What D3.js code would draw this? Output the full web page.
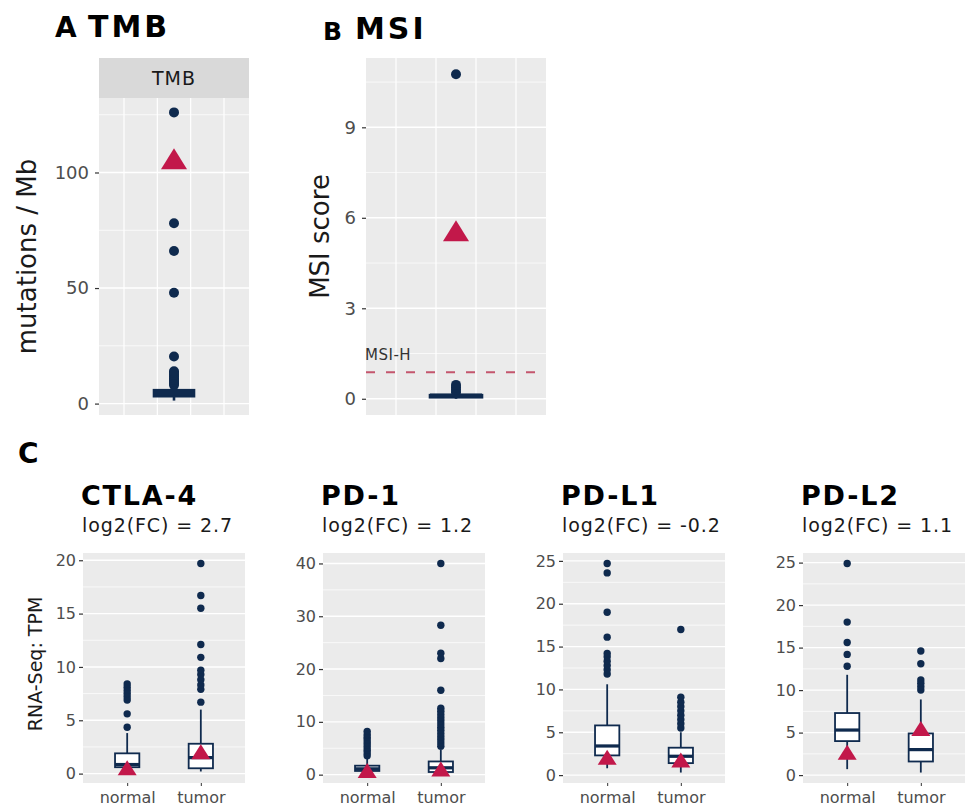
<!DOCTYPE html>
<html>
<head>
<meta charset="utf-8">
<script src="https://cdn.jsdelivr.net/npm/d3@7"></script>
<style>
  body { margin: 0; background: #fff; }
  text { font-family: "DejaVu Sans", sans-serif; }
</style>
</head>
<body>
<script>
// ---- data -------------------------------------------------------------------
// box stats are [whiskerLow, q1, median, q3, whiskerHigh]
const tmbBox      = [1.3, 3.2, 4.4, 5.8, 7.5];
const tmbOutliers = [8, 8.8, 9.5, 10.2, 11, 11.8, 12.5, 13.3, 14, 20.4, 48, 66, 78, 126];
const tmbPatient  = 105;
const tmbTicks    = [0, 50, 100];

const msiBox      = [0, 0.05, 0.1, 0.12, 0.18];
const msiOutliers = [0.22, 0.3, 0.38, 0.46, 10.76];
const msiPatient  = 5.5;
const msiCutoff   = 0.88;
const msiTicks    = [0, 3, 6, 9];

const genes  = ['CTLA-4', 'PD-1', 'PD-L1', 'PD-L2'];
const log2fc = ['2.7', '1.2', '-0.2', '1.1'];
const groups = ['normal', 'tumor'];
const geneTicks = [[0, 5, 10, 15, 20], [0, 10, 20, 30, 40], [0, 5, 10, 15, 20, 25], [0, 5, 10, 15, 20, 25]];

const geneBoxes = [
  [[0.1, 0.6, 0.85, 1.9, 3.8], [0.2, 0.5, 1.5, 2.8, 6.0]],
  [[0.4, 0.7, 1.1, 1.7, 3.2], [0.4, 0.5, 1.3, 2.5, 4.8]],
  [[0.8, 2.3, 3.4, 5.8, 10.6], [0.3, 1.4, 2.2, 3.2, 5.0]],
  [[0.7, 4.0, 5.3, 7.3, 11.8], [0.3, 1.6, 3.0, 4.9, 8.9]]
];
const geneOutliers = [
  [[4.35, 5.6, 6.9, 7.2, 7.5, 7.8, 8.1, 8.4], [6.7, 7.9, 8.3, 8.8, 9.3, 9.7, 10.9, 12.1, 15.5, 16.7, 19.7]],
  [[3.6, 4.1, 4.6, 5.1, 5.6, 6.1, 6.6, 7.1, 7.6, 8.2], [5.4, 6, 6.6, 7.2, 7.8, 8.4, 9, 9.6, 10.2, 10.8, 11.4, 12, 12.6, 16, 22, 23, 28.3, 40]],
  [[11.8, 12.3, 12.8, 13.3, 13.8, 14.2, 16.1, 19, 23.6, 24.7], [5.5, 6, 6.5, 7, 7.5, 8, 8.5, 9.1, 17]],
  [[12.8, 14.2, 15.6, 18, 24.9], [10, 10.4, 10.8, 11.2, 13.1, 14.6]]
];
const genePatient = [[0.4, 1.9], [0.5, 0.8], [1.9, 1.6], [2.5, 5.3]];

// ---- look -------------------------------------------------------------------
const NAVY = '#0f2a4e', RED = '#c2184a', BG = '#ebebeb';

const svg = d3.select('body').append('svg').attr('width', 966).attr('height', 810);

// ggplot-style y domain: data range expanded 5% each side
function expandedDomain(vals) {
  const [lo, hi] = d3.extent(vals);
  const pad = (hi - lo) * 0.05;
  return [lo - pad, hi + pad];
}

function tri(w, h) {
  return `M0,${-h * 0.6}L${w / 2},${h * 0.4}L${-w / 2},${h * 0.4}Z`;
}

function panelBg(x0, y0, w, h, y, ticks, vlines) {
  const g = svg.append('g');
  g.append('rect').attr('x', x0).attr('y', y0).attr('width', w).attr('height', h).attr('fill', BG);
  const step = ticks[1] - ticks[0];
  const minor = ticks.map(t => t + step / 2)
    .concat([ticks[0] - step / 2])
    .filter(v => y(v) > y0 && y(v) < y0 + h);
  g.selectAll('line.minor').data(minor).join('line').attr('class', 'minor')
    .attr('x1', x0).attr('x2', x0 + w).attr('y1', d => y(d)).attr('y2', d => y(d))
    .attr('stroke', '#fff').attr('stroke-width', 0.7);
  g.selectAll('line.major').data(ticks).join('line').attr('class', 'major')
    .attr('x1', x0).attr('x2', x0 + w).attr('y1', d => y(d)).attr('y2', d => y(d))
    .attr('stroke', '#fff').attr('stroke-width', 1.4);
  g.selectAll('line.vl').data(vlines).join('line').attr('class', 'vl')
    .attr('x1', d => d.x).attr('x2', d => d.x).attr('y1', y0).attr('y2', y0 + h)
    .attr('stroke', '#fff').attr('stroke-width', d => d.w);
  return g;
}

function yAxis(x0, y, ticks, size, pad) {
  const ax = svg.append('g').attr('transform', `translate(${x0},0)`)
    .call(d3.axisLeft(y).tickValues(ticks).tickSize(4).tickPadding(pad));
  ax.select('.domain').remove();
  ax.selectAll('line').attr('stroke', '#333').attr('stroke-width', 1.2);
  ax.selectAll('text').attr('fill', '#4d4d4d').style('font-size', size + 'px')
    .style('font-family', '"DejaVu Sans", sans-serif');
  return ax;
}

function boxplot(g, cx, hw, s, y, outliers, r, sw) {
  const [lo, q1, med, q3, hi] = s;
  g.append('line').attr('x1', cx).attr('x2', cx).attr('y1', y(lo)).attr('y2', y(q1))
    .attr('stroke', NAVY).attr('stroke-width', sw);
  g.append('line').attr('x1', cx).attr('x2', cx).attr('y1', y(q3)).attr('y2', y(hi))
    .attr('stroke', NAVY).attr('stroke-width', sw);
  g.append('rect').attr('x', cx - hw).attr('width', hw * 2)
    .attr('y', y(q3)).attr('height', Math.max(0.5, y(q1) - y(q3)))
    .attr('fill', '#fff').attr('stroke', NAVY).attr('stroke-width', sw);
  g.append('line').attr('x1', cx - hw).attr('x2', cx + hw).attr('y1', y(med)).attr('y2', y(med))
    .attr('stroke', NAVY).attr('stroke-width', sw * 1.8);
  g.selectAll(null).data(outliers).join('circle')
    .attr('cx', cx).attr('cy', d => y(d)).attr('r', r).attr('fill', NAVY);
}

function rotLabel(x, y, s, size) {
  svg.append('text').attr('transform', `translate(${x},${y}) rotate(-90)`)
    .attr('text-anchor', 'middle').attr('dy', '0.35em')
    .style('font-size', size + 'px').attr('fill', '#1a1a1a').text(s);
}

function heading(x, y, s, size, ls) {
  svg.append('text').attr('x', x).attr('y', y)
    .style('font-size', size + 'px').style('font-weight', 'bold')
    .style('letter-spacing', ls + 'px').text(s);
}

// ---- A: TMB -------------------------------------------------------------------
{
  const x0 = 99, y0 = 98, w = 150, h = 317;
  const y = d3.scaleLinear().domain(expandedDomain([...tmbBox, ...tmbOutliers, tmbPatient])).range([y0 + h, y0]);
  const x = d3.scaleLinear().domain([-0.45, 0.45]).range([x0, x0 + w]);
  const g = panelBg(x0, y0, w, h, y, tmbTicks,
    [-0.3, -0.1, 0.1, 0.3].map(v => ({ x: x(v), w: 1.2 })));
  // strip
  svg.append('rect').attr('x', x0).attr('y', 58).attr('width', w).attr('height', 40).attr('fill', '#d9d9d9');
  svg.append('text').attr('x', x0 + w / 2).attr('y', 85).attr('text-anchor', 'middle')
    .style('font-size', '19px').style('letter-spacing', '1px').attr('fill', '#1a1a1a').text('TMB');
  boxplot(g, x(0), x(0.12) - x(0), tmbBox, y, tmbOutliers, 5, 2.6);
  g.append('path').attr('transform', `translate(${x(0)},${y(tmbPatient)})`)
    .attr('d', tri(26, 21)).attr('fill', RED);
  yAxis(x0, y, tmbTicks, 18, 6);
  rotLabel(27, y0 + h / 2, 'mutations / Mb', 26);
  heading(55, 37, 'A', 28, 0);
  heading(88, 37, 'TMB', 30, 3);
}

// ---- B: MSI -------------------------------------------------------------------
{
  const x0 = 366, y0 = 58, w = 180, h = 357;
  const y = d3.scaleLinear().domain(expandedDomain([...msiBox, ...msiOutliers, msiPatient])).range([y0 + h, y0]);
  const x = d3.scaleLinear().domain([-0.45, 0.45]).range([x0, x0 + w]);
  const g = panelBg(x0, y0, w, h, y, msiTicks,
    [-0.3, -0.1, 0.1, 0.3].map(v => ({ x: x(v), w: 1.2 })));
  g.append('line').attr('x1', x0).attr('x2', x0 + w).attr('y1', y(msiCutoff)).attr('y2', y(msiCutoff))
    .attr('stroke', '#c4566d').attr('stroke-width', 2).attr('stroke-dasharray', '9,11');
  g.append('text').attr('x', x0 - 1).attr('y', y(msiCutoff) - 12)
    .style('font-size', '15px').style('letter-spacing', '0.5px').attr('fill', '#333').text('MSI-H');
  boxplot(g, x(0), x(0.13) - x(0), msiBox, y, msiOutliers, 5, 2.6);
  g.append('path').attr('transform', `translate(${x(0)},${y(msiPatient)})`)
    .attr('d', tri(26, 21)).attr('fill', RED);
  yAxis(x0, y, msiTicks, 18, 6);
  rotLabel(320, y0 + h / 2, 'MSI score', 26);
  heading(323, 40, 'B', 25, 0);
  heading(355, 39, 'MSI', 30, 3);
}

// ---- C: checkpoint genes -------------------------------------------------------
heading(18, 463, 'C', 28, 0);

genes.forEach((gene, i) => {
  const x0 = 83 + i * 240, y0 = 553, w = 162, h = 230;
  const all = geneBoxes[i].flat().concat(geneOutliers[i].flat(), genePatient[i]);
  const y = d3.scaleLinear().domain(expandedDomain(all)).range([y0 + h, y0]);
  const x = d3.scalePoint().domain(groups).range([x0, x0 + w]).padding(0.6);
  const g = panelBg(x0, y0, w, h, y, geneTicks[i], []);
  groups.forEach((k, j) => {
    boxplot(g, x(k), x.step() * 0.165, geneBoxes[i][j], y, geneOutliers[i][j], 3.7, 1.8);
  });
  groups.forEach((k, j) => {
    g.append('path').attr('transform', `translate(${x(k)},${y(genePatient[i][j])})`)
      .attr('d', tri(19, 15)).attr('fill', RED);
  });
  yAxis(x0, y, geneTicks[i], 16, 3);
  const xa = svg.append('g').attr('transform', `translate(0,${y0 + h})`)
    .call(d3.axisBottom(x).tickSize(3).tickPadding(6));
  xa.select('.domain').remove();
  xa.selectAll('line').attr('stroke', '#333');
  xa.selectAll('text').attr('fill', '#4d4d4d').style('font-size', '16px')
    .style('font-family', '"DejaVu Sans", sans-serif');

  heading(x0 - 2, 505, gene, 27, 1.8);
  svg.append('text').attr('x', x0 - 1).attr('y', 532)
    .style('font-size', '19px').style('letter-spacing', '0.9px')
    .attr('fill', '#1a1a1a').text(`log2(FC) = ${log2fc[i]}`);
});
rotLabel(35, 664, 'RNA-Seq: TPM', 19);
</script>
</body>
</html>
